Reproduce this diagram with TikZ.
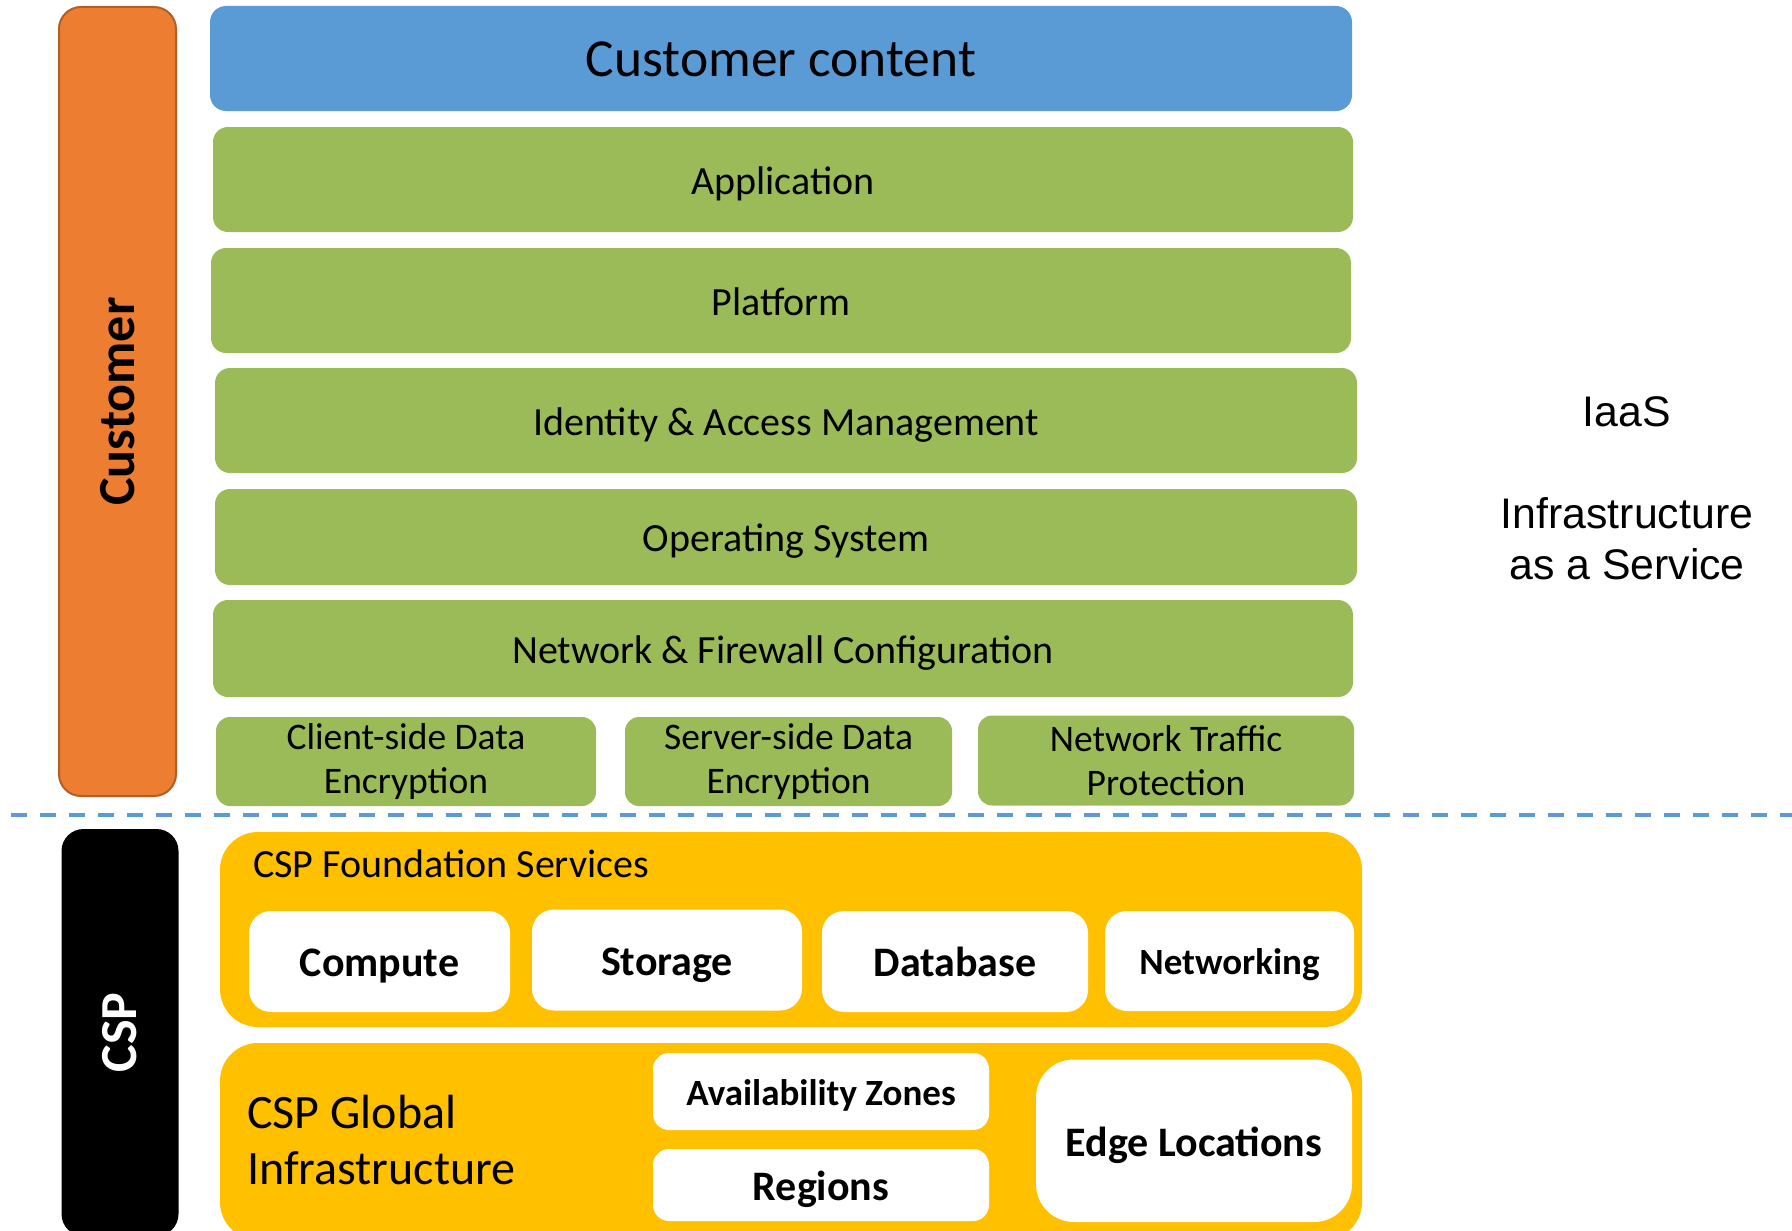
\documentclass[tikz,border=0pt]{standalone}
\usepackage{fontspec}
\setmainfont{Carlito}
\newfontfamily\iaasfont{Liberation Sans}
\usepackage{tikz}

\definecolor{contentblue}{HTML}{5B9BD5}
\definecolor{layergreen}{HTML}{9BBB59}
\definecolor{custorange}{HTML}{ED7D31}
\definecolor{custborder}{HTML}{B35E22}
\definecolor{cspyellow}{HTML}{FFC000}

\begin{document}
\begin{tikzpicture}[x=1pt, y=-1pt,
    sidebar/.style={rounded corners=22pt, minimum width=117pt, inner sep=0pt, font=\fontsize{52}{62}\selectfont\bfseries},
    content/.style={fill=contentblue, rounded corners=16pt, minimum width=1142pt, minimum height=105pt, inner sep=0pt, font=\fontsize{53.5}{64}\selectfont, text height=35.7pt, text depth=0pt},
    layer/.style={fill=layergreen, rounded corners=15pt, minimum width=1140pt, minimum height=105pt, inner sep=0pt, font=\fontsize{40}{48}\selectfont, text height=29pt, text depth=0pt},
    control/.style={fill=layergreen, rounded corners=14pt, minimum height=89pt, inner sep=0pt, align=center, font=\fontsize{37.5}{44.5}\selectfont},
    group/.style={fill=cspyellow, rounded corners=38pt, minimum width=1142pt, inner sep=0pt},
    service/.style={fill=white, rounded corners=22pt, inner sep=0pt, font=\fontsize{42}{50}\selectfont\bfseries, text height=30.5pt, text depth=0pt},
    divider/.style={draw=contentblue, line width=4pt, dash pattern=on 16pt off 13pt}]

    \useasboundingbox (0,0) rectangle (1792,1231);

    % Customer side
    \node[sidebar, fill=custorange, draw=custborder, line width=2pt, minimum height=789pt] (cust) at (117.5,401.5) {\rotatebox{90}{Customer}};

    \node[content] (content) at (781,58.5) {Customer content};
    \node[layer] (app) at (783,179.5) {Application};
    \node[layer] (platform) at (781,300.5) {Platform};
    \node[layer, minimum width=1142pt] (iam) at (786,420.5) {Identity \& Access Management};
    \node[layer, minimum width=1142pt, minimum height=96pt] (os) at (786,537) {Operating System};
    \node[layer, minimum height=97pt] (netfw) at (783,648.5) {Network \& Firewall Configuration};

    \node[control, minimum width=380pt] (client-enc) at (406,761.5) {Client-side Data\\Encryption};
    \node[control, minimum width=327pt] (server-enc) at (788.5,761.5) {Server-side Data\\Encryption};
    \node[control, minimum width=376pt, minimum height=90pt] (net-traffic) at (1166,760.5) {Network Traffic\\Protection};

    % Dividing line
    \coordinate (div-l) at (11,814.5);
    \coordinate (div-r) at (1792,814.5);
    \draw[divider] (div-l) -- (div-r);

    % CSP side
    \node[sidebar, fill=black, text=white, minimum height=407pt] (csp) at (120,1032.5) {\rotatebox{90}{CSP}};

    \node[group, minimum height=195pt] (found) at (791,929.5) {};
    \node[anchor=base west, inner sep=0pt, font=\fontsize{40}{48}\selectfont] (found-title) at (253,877.5) {CSP Foundation Services};
    \node[service, minimum width=261pt, minimum height=101pt] (compute) at (379.5,961.5) {Compute};
    \node[service, minimum width=270pt, minimum height=101pt] (storage) at (667,960) {Storage};
    \node[service, minimum width=266pt, minimum height=101pt] (database) at (955,961.5) {Database};
    \node[service, minimum width=249pt, minimum height=100pt, font=\fontsize{37}{44}\selectfont\bfseries, text height=27.3pt] (networking) at (1229.5,961) {Networking};

    \node[group, minimum height=197pt] (global) at (791,1141.5) {};
    \node[anchor=west, align=left, inner sep=0pt, font=\fontsize{48}{56.5}\selectfont] (global-title) at (247,1140) {CSP Global\\Infrastructure};
    \node[service, rounded corners=16pt, minimum width=336pt, minimum height=77pt, font=\fontsize{37}{44}\selectfont\bfseries, text height=27.3pt] (az) at (821,1091.5) {Availability Zones};
    \node[service, rounded corners=16pt, minimum width=336pt, minimum height=72pt] (regions) at (821,1185) {Regions};
    \node[service, rounded corners=38pt, minimum width=316pt, minimum height=162.5pt] (edge) at (1194,1140.75) {Edge Locations};

    % Service model
    \node[align=center, font=\iaasfont\fontsize{42.8}{51}\selectfont] (iaas) at (1627,488) {IaaS\\[51pt]Infrastructure\\as a Service};

\end{tikzpicture}
\end{document}
